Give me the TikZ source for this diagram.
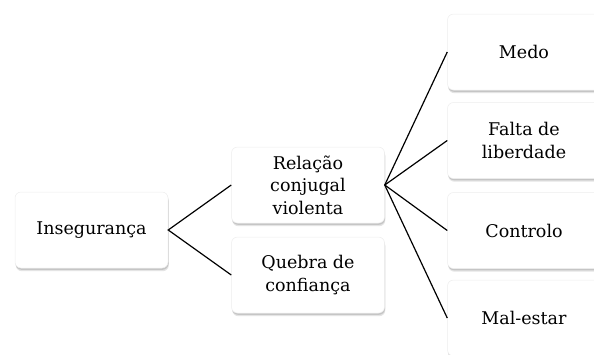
\documentclass[tikz,border=0pt]{standalone}
\usepackage{fontspec}
\setmainfont{DejaVu Serif}
\usetikzlibrary{shadows}
\tikzset{
  box/.style={draw=black!7, line width=0.5pt, fill=white, rounded corners=6pt, minimum width=153pt, minimum height=76pt,
    align=center, font=\fontsize{17.5}{22.5}\selectfont, inner sep=2pt,
    drop shadow={shadow xshift=0.8pt, shadow yshift=-3.2pt, opacity=0.15, fill=black!70},
    drop shadow={shadow xshift=0.5pt, shadow yshift=-1.8pt, opacity=0.25, fill=black!60}},
  link/.style={draw=black, line width=1.2pt}
}
\begin{document}
\begin{tikzpicture}[x=1pt,y=-1pt]
\useasboundingbox (0,0) rectangle (594,354);
\clip (0,0) rectangle (594,354);
\node[box] (ins) at (91.5,230) {Insegurança};
\node[box] (rel) at (308,185) {Relação\\conjugal\\violenta};
\node[box] (que) at (308,275) {Quebra de\\confiança};
\node[box] (med) at (524,52) {Medo};
\node[box] (fal) at (524,140.5) {Falta de\\liberdade};
\node[box] (con) at (524,230.5) {Controlo};
\node[box] (mal) at (524,318) {Mal-estar};
\draw[link] (rel.west) -- (ins.east) -- (que.west);
\draw[link] (rel.east) -- (med.west);
\draw[link] (rel.east) -- (fal.west);
\draw[link] (rel.east) -- (con.west);
\draw[link] (rel.east) -- (mal.west);
\end{tikzpicture}
\end{document}
